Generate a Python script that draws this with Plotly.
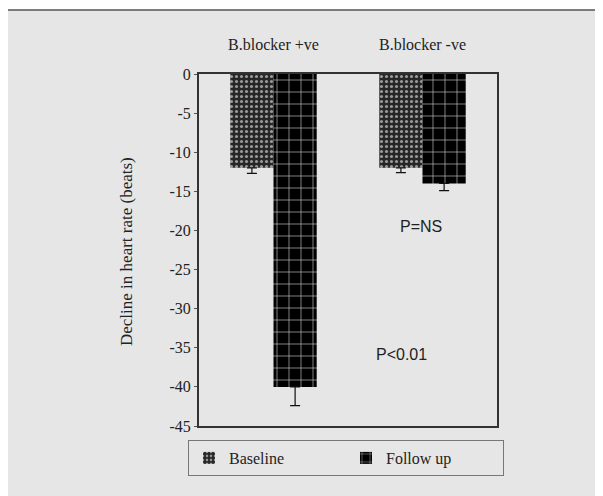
import plotly.graph_objects as go

# ---- data ----
categories = ["B.blocker +ve", "B.blocker -ve"]
baseline = [-12.0, -12.0]
baseline_err = [0.7, 0.6]
followup = [-40.0, -14.0]
followup_err = [2.4, 0.9]
ytick_vals = [0, -5, -10, -15, -20, -25, -30, -35, -40, -45]
ytick_text = ["0", "-5", "-10", "-15", "-20", "-25", "-30", "-35", "-40", "-45"]
p_labels = ["P<0.01", "P=NS"]

# ---- layout geometry (pixels, reference image coordinates) ----
OFF = 8                      # page body margin
W, H = 603 - OFF, 496 - OFF
PL, PR, PT, PB = 199, 497, 74, 426   # plot box in reference coords
ML, MR, MT, MB = PL - OFF, W - (PR - OFF), PT - OFF, H - (PB - OFF)
PW, PH = W - ML - MR, H - MT - MB

def px(x):
    return (x - OFF - ML) / PW

def py(y):
    return 1 - (y - OFF - MT) / PH

GREY = "#e6e6e6"
SERIF = "Liberation Serif, Times New Roman, serif"
SANS = "Liberation Sans, Arial, sans-serif"

fig = go.Figure()
fig.add_trace(go.Bar(
    name="Baseline", x=categories, y=baseline,
    marker=dict(color="#262626", line=dict(width=0),
                pattern=dict(shape=".", bgcolor="#262626", fgcolor="#9a9a9a",
                             size=5, solidity=0.3, fillmode="replace")),
    error_y=dict(type="data", symmetric=False, array=[0, 0], arrayminus=baseline_err,
                 color="#111", thickness=1.2, width=5),
))
fig.add_trace(go.Bar(
    name="Follow up", x=categories, y=followup,
    marker=dict(color="#000000", line=dict(width=0),
                pattern=dict(shape="+", bgcolor="#000000", fgcolor="#d0d0d0",
                             size=12, solidity=0.1, fillmode="replace")),
    error_y=dict(type="data", symmetric=False, array=[0, 0], arrayminus=followup_err,
                 color="#111", thickness=1.2, width=5),
))

shapes = [
    dict(type="rect", xref="paper", yref="paper", x0=px(4), x1=px(620), y0=py(10), y1=py(520),
         fillcolor=GREY, line=dict(width=0), layer="below"),
    dict(type="line", xref="paper", yref="paper", x0=px(4), x1=px(620), y0=py(10), y1=py(10),
         line=dict(color="#555", width=1.5)),
    dict(type="line", xref="paper", yref="paper", x0=px(4), x1=px(4), y0=py(10), y1=py(520),
         line=dict(color="#222", width=1.5)),
]

annotations = [
    dict(text="Decline in heart rate (beats)", xref="paper", yref="paper", x=px(126), y=py(252),
         textangle=-90, showarrow=False, font=dict(family=SERIF, size=17, color="#222"),
         xanchor="center", yanchor="middle"),
    dict(text=p_labels[0], xref="paper", yref="paper", x=px(401), y=py(354), showarrow=False,
         font=dict(family=SANS, size=16, color="#222"), xanchor="center", yanchor="middle"),
    dict(text=p_labels[1], xref="paper", yref="paper", x=px(421), y=py(227), showarrow=False,
         font=dict(family=SANS, size=16, color="#222"), xanchor="center", yanchor="middle"),
]

fig.update_layout(
    width=W, height=H,
    margin=dict(l=ML, r=MR, t=MT, b=MB),
    paper_bgcolor="white", plot_bgcolor=GREY,
    barmode="group", bargap=0.42, bargroupgap=0,
    shapes=shapes, annotations=annotations,
    showlegend=True,
    legend=dict(orientation="h", x=px(188), y=py(440), xanchor="left", yanchor="top",
                bgcolor=GREY, bordercolor="#777", borderwidth=1,
                font=dict(family=SERIF, size=16, color="#222"),
                entrywidth=112, entrywidthmode="pixels", traceorder="normal"),
    xaxis=dict(side="top", showline=True, mirror=True, linecolor="#333", linewidth=2,
               ticks="", showgrid=False, zeroline=False, ticklabelstandoff=16,
               tickfont=dict(family=SERIF, size=16, color="#222"), range=[-0.5, 1.5]),
    yaxis=dict(range=[-45, 0], showline=True, mirror=True, linecolor="#333", linewidth=2,
               tickvals=ytick_vals, ticktext=ytick_text, ticks="outside", ticklen=3,
               tickcolor="#555", showgrid=False, zeroline=False,
               tickfont=dict(family=SERIF, size=16, color="#222")),
)

fig.write_html("out.html")
